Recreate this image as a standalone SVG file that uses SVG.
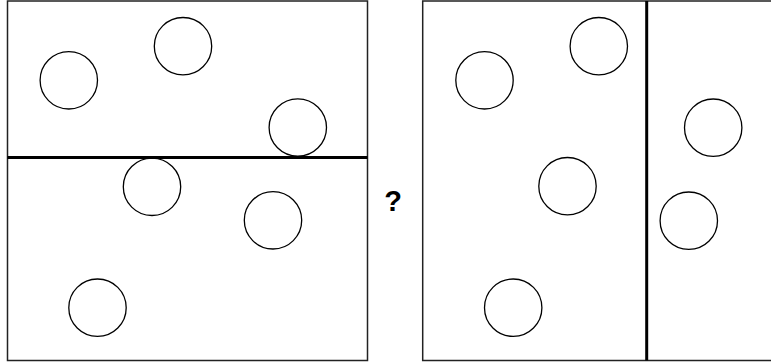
<svg xmlns="http://www.w3.org/2000/svg" width="771" height="362" viewBox="0 0 771 362">
<style>
.frame{fill:none;stroke:#222;stroke-width:1.5}
.div{stroke:#000;stroke-width:3}
.c{fill:none;stroke:#000;stroke-width:1.3}
.q{font-family:"Liberation Sans",Arial,sans-serif;font-weight:bold;font-size:29px;fill:#000;text-anchor:middle}
</style>
<g id="left-panel">
<rect class="frame" x="7.5" y="1" width="360" height="359.5"/>
<line class="div" x1="7.5" y1="157.5" x2="367.5" y2="157.5"/>
<circle class="c" cx="68.8" cy="80.3" r="28.7"/>
<circle class="c" cx="183" cy="46.2" r="28.7"/>
<circle class="c" cx="297.8" cy="127.5" r="28.7"/>
<circle class="c" cx="152" cy="186.8" r="28.7"/>
<circle class="c" cx="273" cy="220.3" r="28.7"/>
<circle class="c" cx="97.5" cy="307.7" r="28.7"/>
</g>
<g id="question">
<text class="q" x="393" y="210.5">?</text>
</g>
<g id="right-panel">
<rect class="frame" x="422.7" y="1" width="360" height="359.5"/>
<line class="div" x1="646.7" y1="1" x2="646.7" y2="360.5"/>
<circle class="c" cx="484.5" cy="80.3" r="28.7"/>
<circle class="c" cx="598.8" cy="46.2" r="28.7"/>
<circle class="c" cx="713.2" cy="127.7" r="28.7"/>
<circle class="c" cx="567.5" cy="186.2" r="28.7"/>
<circle class="c" cx="688.8" cy="220.7" r="28.7"/>
<circle class="c" cx="513.2" cy="307.7" r="28.7"/>
</g>
</svg>
